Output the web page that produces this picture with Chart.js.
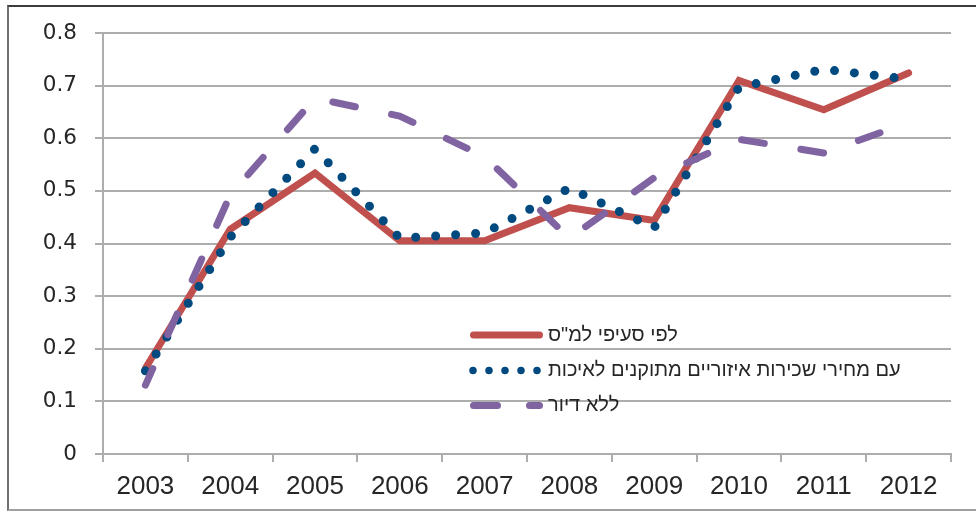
<!DOCTYPE html>
<html>
<head>
<meta charset="utf-8">
<script src="https://cdn.jsdelivr.net/npm/chart.js"></script>
</head>
<body style="margin:0;padding:0;background:#fff;overflow:hidden;">
<div style="position:absolute;left:7px;top:5px;width:1000px;height:502px;border-top:2px solid #3c3c3c;border-left:2px solid #707070;border-bottom:2px solid #a0a0a0;"></div>
<canvas id="chart" width="976" height="512" style="position:absolute;left:0;top:0;"></canvas>
<script>
  const years = ['2003', '2004', '2005', '2006', '2007', '2008', '2009', '2010', '2011', '2012'];
  const yTickLabels = ['0', '0.1', '0.2', '0.3', '0.4', '0.5', '0.6', '0.7', '0.8'];

  // לפי סעיפי למ"ס
  const byCbs = [0.163, 0.427, 0.534, 0.405, 0.405, 0.468, 0.444, 0.710, 0.654, 0.724];
  // עם מחירי שכירות איזוריים מתוקנים לאיכות
  const withRent = [0.158, 0.412, 0.580, 0.410, 0.420, 0.505, 0.430, 0.697, 0.731, 0.712];
  // ללא דיור
  const noHousing = [0.131, 0.492, 0.676, 0.642, 0.565, 0.410, 0.525, 0.598, 0.572, 0.630];

  const seriesNames = ['לפי סעיפי למ"ס', 'עם מחירי שכירות איזוריים מתוקנים לאיכות', 'ללא דיור'];

  const gridGray = '#adadad';
  const textColor = '#262626';

  // legend drawn inside the plot, like the original
  const insideLegend = {
    id: 'insideLegend',
    afterDraw(chart) {
      const ctx = chart.ctx;
      const rows = [335, 370.5, 405.5];
      const samples = [
        {x1: 473.5, x2: 539.5, dash: []},
        {x1: 473, x2: 537.5, dash: [0, 16]},
        {x1: 473.5, x2: 539.5, dash: [24, 32]}
      ];
      chart.data.datasets.forEach((ds, i) => {
        const y = rows[i];
        const s = samples[i];
        ctx.save();
        ctx.strokeStyle = ds.borderColor;
        ctx.lineWidth = i === 1 ? 7.5 : ds.borderWidth;
        ctx.lineCap = 'round';
        ctx.setLineDash(s.dash);
        ctx.beginPath();
        ctx.moveTo(s.x1, y);
        ctx.lineTo(s.x2, y);
        ctx.stroke();
        ctx.restore();

        ctx.save();
        ctx.fillStyle = textColor;
        ctx.font = '20px "Liberation Sans", Arial, sans-serif';
        ctx.direction = 'rtl';
        ctx.textAlign = 'left';
        ctx.textBaseline = 'middle';
        ctx.fillText(ds.label, 548, y);
        ctx.restore();
      });
    }
  };

  const ctx = document.getElementById('chart');
  const chart = new Chart(ctx, {
    type: 'line',
    data: {
      labels: years,
      datasets: [{
        label: seriesNames[0],
        data: byCbs,
        borderColor: '#c0504d',
        borderWidth: 7,
        borderCapStyle: 'round',
        borderJoinStyle: 'miter',
        pointRadius: 0,
        order: 3
      }, {
        label: seriesNames[1],
        data: withRent,
        borderColor: '#004a80',
        borderWidth: 9,
        borderDash: [0, 20],
        borderCapStyle: 'round',
        borderJoinStyle: 'round',
        pointRadius: 0,
        order: 2
      }, {
        label: seriesNames[2],
        data: noHousing,
        borderColor: '#8064a2',
        borderWidth: 7,
        borderDash: [23, 37],
        borderDashOffset: 5,
        borderCapStyle: 'round',
        borderJoinStyle: 'round',
        pointRadius: 0,
        order: 1
      }]
    },
    options: {
      responsive: false,
      animation: false,
      layout: {
        padding: {top: 33, right: 25, left: 0, bottom: 0}
      },
      plugins: {
        legend: {display: false},
        tooltip: {enabled: false}
      },
      scales: {
        x: {
          offset: true,
          grid: {
            offset: true,
            drawOnChartArea: false,
            drawTicks: true,
            tickLength: 8,
            color: gridGray,
            lineWidth: 2
          },
          border: {color: gridGray, width: 2},
          ticks: {
            color: textColor,
            padding: 9,
            maxRotation: 0,
            autoSkip: false,
            font: {family: '"Liberation Sans", Arial, sans-serif', size: 26}
          },
          afterFit(scale) { scale.height = 58; }
        },
        y: {
          min: 0,
          max: 0.8,
          grid: {
            color: gridGray,
            lineWidth: 2,
            tickLength: 8
          },
          border: {color: gridGray, width: 2},
          ticks: {
            stepSize: 0.1,
            color: textColor,
            padding: 18,
            font: {family: '"DejaVu Sans", sans-serif', size: 21.5},
            callback: (value, index) => yTickLabels[index]
          },
          afterFit(scale) { scale.width = 103; }
        }
      }
    },
    plugins: [insideLegend]
  });
</script>
</body>
</html>
